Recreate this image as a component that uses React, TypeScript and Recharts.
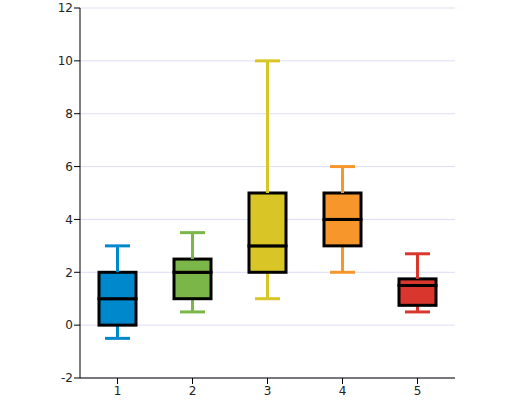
import React from "react";
import { ComposedChart, Bar, XAxis, YAxis, CartesianGrid, Cell } from "recharts";

const categories = ["1", "2", "3", "4", "5"];
const mins = [-0.5, 0.5, 1, 2, 0.5];
const q1s = [0, 1, 2, 3, 0.75];
const medians = [1, 2, 3, 4, 1.5];
const q3s = [2, 2.5, 5, 5, 1.75];
const maxs = [3, 3.5, 10, 6, 2.7];
const colors = ["#0088cc", "#7ab648", "#d9c626", "#f7962a", "#d9372d"];
const yTicks = [-2, 0, 2, 4, 6, 8, 10, 12];

const data = categories.map((c, i) => ({
  name: c,
  base: mins[i],
  whiskerLow: q1s[i] - mins[i],
  boxLow: medians[i] - q1s[i],
  boxHigh: q3s[i] - medians[i],
  whiskerHigh: maxs[i] - q3s[i],
  color: colors[i],
}));

const CAP = 25;

const WhiskerLow = (props: any) => {
  const { x, y, width, height, payload } = props;
  const cx = x + width / 2;
  const bottom = y + height;
  return (
    <g>
      <line x1={cx} x2={cx} y1={y} y2={bottom} stroke={payload.color} strokeWidth={3} />
      <line x1={cx - CAP / 2} x2={cx + CAP / 2} y1={bottom} y2={bottom} stroke={payload.color} strokeWidth={3} />
    </g>
  );
};

const WhiskerHigh = (props: any) => {
  const { x, y, width, height, payload } = props;
  const cx = x + width / 2;
  return (
    <g>
      <line x1={cx} x2={cx} y1={y} y2={y + height} stroke={payload.color} strokeWidth={3} />
      <line x1={cx - CAP / 2} x2={cx + CAP / 2} y1={y} y2={y} stroke={payload.color} strokeWidth={3} />
    </g>
  );
};

const BoxPart = (props: any) => {
  const { x, y, width, height, payload } = props;
  return <rect x={x} y={y} width={width} height={height} fill={payload.color} stroke="#000" strokeWidth={3} />;
};

const tickStyle = { fontFamily: "DejaVu Sans", fontSize: 12, fill: "#222" };

export default function App() {
  return (
    <div style={{ position: "absolute", left: 0, top: 0, width: 512, height: 400 }}>
      <ComposedChart
        width={512}
        height={400}
        data={data}
        margin={{ top: 8, right: 57, bottom: 0, left: 20 }}
        barSize={37}
      >
        <CartesianGrid horizontal vertical={false} stroke="#ddddf7" strokeDasharray="" />
        <XAxis
          dataKey="name"
          height={22}
          tickSize={6}
          tickMargin={2}
          tick={tickStyle}
          axisLine={{ stroke: "#000" }}
          tickLine={{ stroke: "#000" }}
        />
        <YAxis
          width={60}
          domain={[-2, 12]}
          ticks={yTicks}
          interval={0}
          tickSize={6}
          tickMargin={1}
          tick={tickStyle}
          axisLine={{ stroke: "#000" }}
          tickLine={{ stroke: "#000" }}
        />
        <Bar dataKey="base" stackId="a" fill="none" isAnimationActive={false} shape={() => <g />} />
        <Bar dataKey="whiskerLow" stackId="a" isAnimationActive={false} shape={WhiskerLow} />
        <Bar dataKey="boxLow" stackId="a" isAnimationActive={false} shape={BoxPart} />
        <Bar dataKey="boxHigh" stackId="a" isAnimationActive={false} shape={BoxPart} />
        <Bar dataKey="whiskerHigh" stackId="a" isAnimationActive={false} shape={WhiskerHigh} />
      </ComposedChart>
    </div>
  );
}
